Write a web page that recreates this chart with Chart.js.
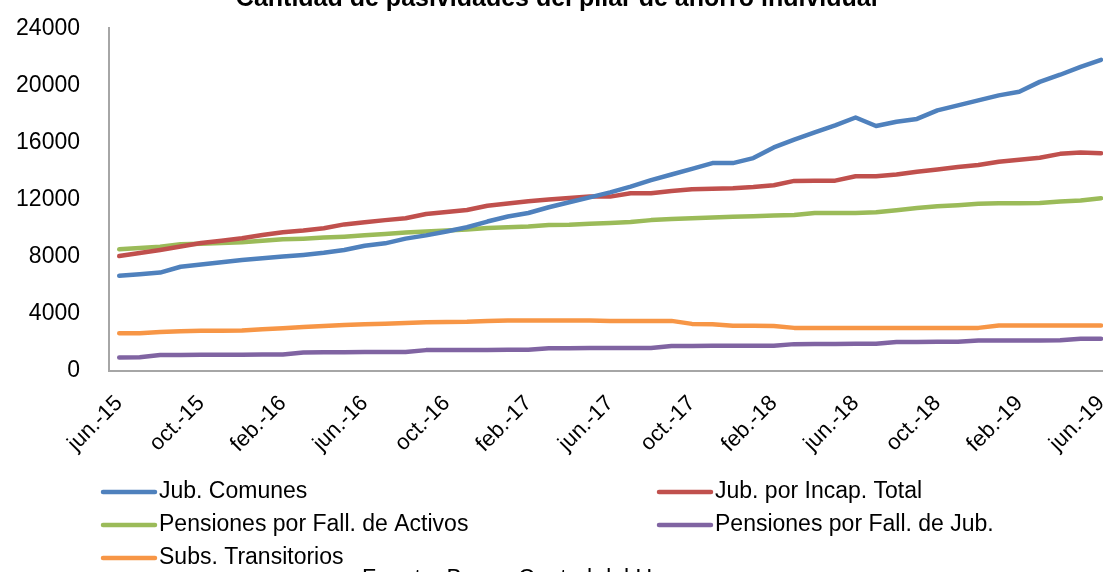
<!DOCTYPE html>
<html>
<head>
<meta charset="utf-8">
<script src="https://cdn.jsdelivr.net/npm/chart.js@4/dist/chart.umd.min.js"></script>
<style>
    html, body { margin: 0; padding: 0; background: #fff; overflow: hidden; width: 1103px; height: 572px; }
    #wrap { position: absolute; left: 0; top: -20px; }
</style>
</head>
<body>
<div id="wrap"><canvas id="chart" width="1140" height="620"></canvas></div>
<script>
const titleText = 'Cantidad de pasividades del pilar de ahorro individual';
const sourceText = 'Fuente: Banco Central del Uruguay';

const months = [
    'jun.-15', 'jul.-15', 'ago.-15', 'sep.-15', 'oct.-15', 'nov.-15', 'dic.-15',
    'ene.-16', 'feb.-16', 'mar.-16', 'abr.-16', 'may.-16', 'jun.-16', 'jul.-16', 'ago.-16', 'sep.-16', 'oct.-16', 'nov.-16', 'dic.-16',
    'ene.-17', 'feb.-17', 'mar.-17', 'abr.-17', 'may.-17', 'jun.-17', 'jul.-17', 'ago.-17', 'sep.-17', 'oct.-17', 'nov.-17', 'dic.-17',
    'ene.-18', 'feb.-18', 'mar.-18', 'abr.-18', 'may.-18', 'jun.-18', 'jul.-18', 'ago.-18', 'sep.-18', 'oct.-18', 'nov.-18', 'dic.-18',
    'ene.-19', 'feb.-19', 'mar.-19', 'abr.-19', 'may.-19', 'jun.-19'
];

const jubComunes = [
    6650, 6760, 6870, 7280, 7430, 7590, 7750, 7870, 7990, 8110,
    8260, 8450, 8750, 8920, 9250, 9480, 9750, 10050, 10450, 10800,
    11050, 11450, 11800, 12150, 12500, 12900, 13350, 13750, 14150, 14550,
    14550, 14900, 15650, 16200, 16700, 17200, 17750, 17150, 17450, 17650,
    18250, 18600, 18950, 19300, 19550, 20250, 20750, 21300, 21800
];
const jubIncapacidad = [
    8030, 8250, 8460, 8700, 8950, 9100, 9280, 9500, 9700, 9820,
    9980, 10250, 10400, 10550, 10680, 10980, 11120, 11260, 11560, 11720,
    11880, 12000, 12100, 12200, 12200, 12430, 12430, 12600, 12720, 12750,
    12790, 12870, 13000, 13300, 13320, 13320, 13630, 13620, 13750, 13950,
    14100, 14280, 14420, 14650, 14780, 14930, 15200, 15290, 15240
];
const pensActivos = [
    8500, 8600, 8680, 8850, 8900, 8950, 9000, 9100, 9200, 9250,
    9330, 9390, 9480, 9580, 9680, 9750, 9820, 9900, 10000, 10050,
    10100, 10200, 10230, 10300, 10350, 10420, 10550, 10620, 10680, 10740,
    10790, 10830, 10870, 10910, 11050, 11050, 11050, 11100, 11250, 11400,
    11530, 11600, 11700, 11730, 11730, 11750, 11850, 11920, 12080
];
const pensJubilados = [
    920, 930, 1080, 1090, 1100, 1100, 1110, 1120, 1130, 1270,
    1280, 1280, 1290, 1290, 1300, 1430, 1430, 1440, 1440, 1450,
    1460, 1560, 1560, 1570, 1570, 1580, 1580, 1720, 1720, 1730,
    1730, 1740, 1740, 1850, 1860, 1860, 1870, 1870, 2000, 2000,
    2010, 2010, 2100, 2100, 2110, 2110, 2120, 2230, 2230
];
const subsTransitorios = [
    2610, 2620, 2700, 2750, 2780, 2790, 2800, 2900, 2960, 3050,
    3120, 3200, 3250, 3280, 3330, 3380, 3400, 3420, 3480, 3500,
    3500, 3500, 3500, 3500, 3480, 3480, 3480, 3480, 3270, 3250,
    3140, 3140, 3120, 2990, 2990, 2990, 2990, 2990, 2990, 2990,
    2990, 2990, 2990, 3150, 3150, 3150, 3150, 3150, 3150
];

const yTicks = [0, 4000, 8000, 12000, 16000, 20000, 24000];

const fontFamily = "'Liberation Sans', Arial, sans-serif";
Chart.defaults.font.family = fontFamily;

function makeLine(label, data, color) {
    return {
        label: label,
        data: data,
        borderColor: color,
        backgroundColor: color,
        borderWidth: 4.5,
        pointRadius: 0,
        tension: 0,
        borderJoinStyle: 'round',
        borderCapStyle: 'round',
        fill: false
    };
}

// legend in two columns like the original, plus the source line
const gridLegend = {
    id: 'gridLegend',
    afterDraw(chart) {
        const ctx = chart.ctx;
        const cols = [101, 657];
        const rows = [512, 545, 578];
        ctx.save();
        ctx.font = '23px ' + fontFamily;
        ctx.textBaseline = 'middle';
        ctx.textAlign = 'left';
        chart.data.datasets.forEach((ds, i) => {
            const x = cols[i % 2];
            const y = rows[Math.floor(i / 2)];
            ctx.strokeStyle = ds.borderColor;
            ctx.lineWidth = 4.5;
            ctx.lineCap = 'round';
            ctx.beginPath();
            ctx.moveTo(x + 2, y);
            ctx.lineTo(x + 54, y);
            ctx.stroke();
            ctx.fillStyle = '#000';
            ctx.fillText(ds.label, x + 58, y);
        });
        ctx.textBaseline = 'top';
        ctx.fillText(sourceText, 362, 588);
        ctx.restore();
    }
};

const ctx = document.getElementById('chart').getContext('2d');
new Chart(ctx, {
    type: 'line',
    data: {
        labels: months,
        datasets: [
            makeLine('Jub. Comunes', jubComunes, '#4F81BD'),
            makeLine('Jub. por Incap. Total', jubIncapacidad, '#C0504D'),
            makeLine('Pensiones por Fall. de Activos', pensActivos, '#9BBB59'),
            makeLine('Pensiones por Fall. de Jub.', pensJubilados, '#8064A2'),
            makeLine('Subs. Transitorios', subsTransitorios, '#F79646')
        ]
    },
    options: {
        responsive: false,
        animation: false,
        layout: { padding: { top: 0, left: 0, right: 26.5, bottom: 0 } },
        plugins: {
            legend: { display: false },
            tooltip: { enabled: false },
            title: {
                display: true,
                text: titleText,
                color: '#000',
                font: { size: 25, weight: 'bold' },
                padding: { top: 4, bottom: 14.4 }
            }
        },
        scales: {
            x: {
                offset: true,
                grid: { display: false, drawTicks: false },
                border: { color: '#a6a6a6', width: 2 },
                ticks: {
                    autoSkip: false,
                    maxRotation: 45,
                    minRotation: 45,
                    padding: 20,
                    color: '#000',
                    font: { size: 22 },
                    callback: (value, index) => index % 4 === 0 ? months[index] : ''
                },
                afterFit: scale => { scale.height = 229.5; }
            },
            y: {
                min: 0,
                max: 24000,
                grid: { display: false, drawTicks: false },
                border: { color: '#a6a6a6', width: 2 },
                ticks: {
                    padding: 29,
                    color: '#000',
                    font: { size: 23 },
                    callback: value => value.toString()
                },
                afterBuildTicks: scale => { scale.ticks = yTicks.map(v => ({ value: v })); },
                afterFit: scale => { scale.width = 109; }
            }
        }
    },
    plugins: [gridLegend]
});
</script>
</body>
</html>
